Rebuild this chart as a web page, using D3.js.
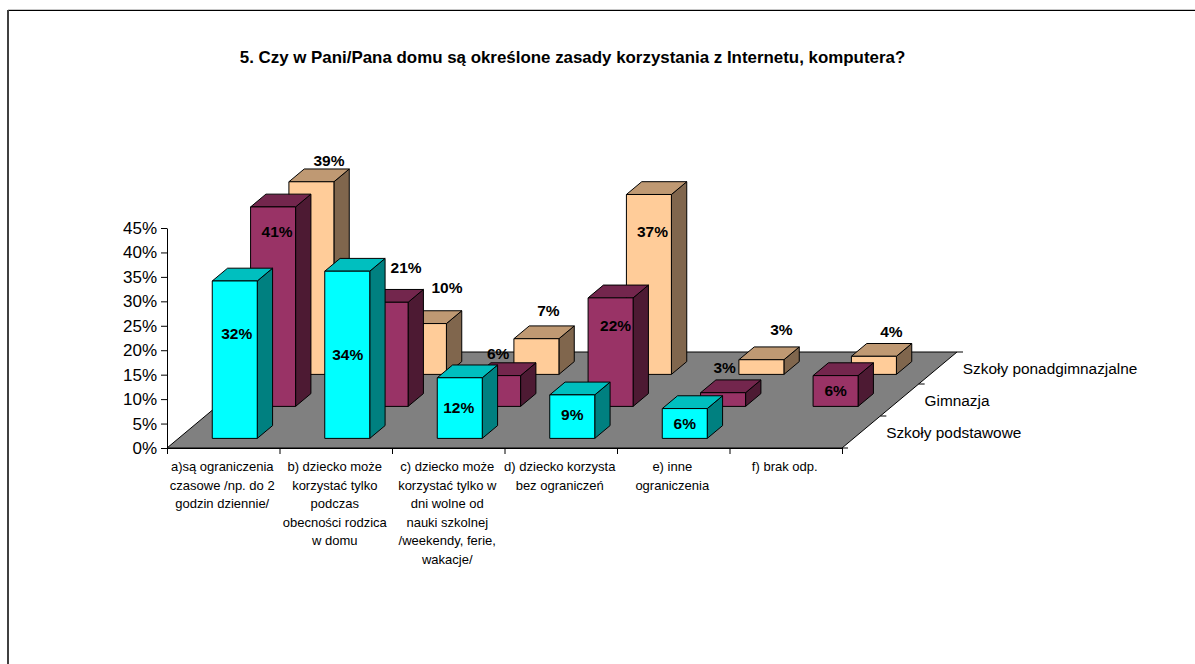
<!DOCTYPE html>
<html lang="pl"><head><meta charset="utf-8">
<style>html,body{margin:0;padding:0;background:#fff}svg{display:block}text{font-family:"Liberation Sans",Arial,sans-serif;fill:#000}</style>
<script src="https://cdn.jsdelivr.net/npm/d3@7/dist/d3.min.js"></script>
</head><body><svg id="c" width="1195" height="664"></svg>
<script>
const title = "5. Czy w Pani/Pana domu są określone zasady korzystania z Internetu, komputera?";
const categories = [
  ["a)są ograniczenia","czasowe /np. do 2","godzin dziennie/"],
  ["b) dziecko może","korzystać tylko","podczas","obecności rodzica","w domu"],
  ["c) dziecko może","korzystać tylko w","dni wolne od","nauki szkolnej","/weekendy, ferie,","wakacje/"],
  ["d) dziecko korzysta","bez ograniczeń"],
  ["e) inne","ograniczenia"],
  ["f) brak odp."]
];
const seriesNames = ["Szkoły podstawowe","Gimnazja","Szkoły ponadgimnazjalne"];
const podstawowe = [32.2,34.2,12.4,8.9,6.1,null];
const gimnazja = [40.8,21.3,6.3,22.2,2.8,6.3];
const ponadgimnazjalne = [39.4,10.4,7.3,36.8,3.0,3.7];
const yTicks = [0,5,10,15,20,25,30,35,40,45];
const seriesValues = [podstawowe,gimnazja,ponadgimnazjalne];
const palette = [
  {front:"#00FFFF",side:"#008080",top:"#00BFBF"},
  {front:"#993366",side:"#4D1A33",top:"#73264D"},
  {front:"#FFCC99",side:"#80664D",top:"#BF9973"}
];
// hand-placed label nudges relative to each bar's front-top centre
const nudgeX = [[2,0.5,-1,0,0,0],[4,20.5,0,5,1.5,0],[17.5,23,12,3.5,20,17.5]];
const nudgeY = [[53,83,29.6,20,14.6,0],[25,-35,-21.7,28,-25.7,15],[-21.6,-36,-28,37,-30,-24.7]];

const svg = d3.select("#c");
const x = d3.scaleLinear().domain([0,6]).range([167,842]);
const h = d3.scaleLinear().domain([0,45]).range([0,220]);
const depthX = d3.scaleLinear().domain([0,3]).range([0,115]);
const depthY = d3.scaleLinear().domain([0,3]).range([0,-96]);
const y0 = 448;
const pt = (c,d,v=0)=>[x(c)+depthX(d), y0+depthY(d)-h(v)];
const poly = p=>p.map(a=>a.join(",")).join(" ");

// page frame: only the top and left rules are visible
svg.append("line").attr("x1",8).attr("x2",1195).attr("y1",9.5).attr("y2",9.5).attr("stroke","#c8c8c8");
svg.append("line").attr("x1",7).attr("x2",1195).attr("y1",10.5).attr("y2",10.5).attr("stroke","#000");
svg.append("line").attr("x1",8).attr("x2",8).attr("y1",10).attr("y2",664).attr("stroke","#404040").attr("stroke-width",2);

svg.append("text").attr("x",572.5).attr("y",63).attr("text-anchor","middle")
  .attr("font-weight","bold").attr("font-size",16.9).text(title);

// floor
svg.append("polygon").attr("points",poly([pt(0,0),pt(6,0),pt(6,3),pt(0,3)]))
  .attr("fill","#808080").attr("stroke","#000").attr("stroke-width",1);

// axes
const yAxis = d3.axisLeft(d3.scaleLinear().domain([0,45]).range([y0,y0-220]))
  .tickValues(yTicks).tickFormat(d=>d+"%").tickSize(6).tickSizeOuter(0);
const gy = svg.append("g").attr("transform","translate(167,0)").call(yAxis);
gy.selectAll("text").attr("font-size",17).attr("x",-10).attr("fill","#000");
gy.attr("font-family",null);
const xAxis = d3.axisBottom(x).tickValues(d3.range(7)).tickFormat("").tickSize(6).tickSizeOuter(0);
svg.append("g").attr("transform",`translate(0,${y0})`).call(xAxis);
// depth ticks
svg.append("g").selectAll("line").data([0,1,2,3]).join("line")
  .attr("x1",d=>pt(6,d)[0]).attr("y1",d=>pt(6,d)[1])
  .attr("x2",d=>pt(6,d)[0]+6).attr("y2",d=>pt(6,d)[1]).attr("stroke","#000");

// category labels
const catG = svg.append("g").selectAll("g").data(categories).join("g");
catG.each(function(lines,i){
  d3.select(this).selectAll("text").data(lines).join("text")
    .attr("x",x(i+0.5)-1).attr("y",(l,j)=>471+j*18.6).attr("text-anchor","middle")
    .attr("font-size",13).text(l=>l);
});

// series labels
svg.append("g").selectAll("text").data(seriesNames).join("text")
  .attr("x",(s,i)=>pt(6,i+0.5)[0]+25).attr("y",(s,i)=>pt(6,i+0.5)[1]+6)
  .attr("font-size",15.4).text(s=>s);

// bars, back row first
const barW = 45, sideDepth = 0.4, frontOff = 0.3;
for(let s=2;s>=0;s--){
  seriesValues[s].forEach((v,c)=>{
    if(v==null) return;
    const dF = s+frontOff, dB = dF+sideDepth;
    const cx = c+0.5, half = barW/2/(x(1)-x(0));
    const fl=cx-half, fr=cx+half;
    const g = svg.append("g").attr("stroke","#000").attr("stroke-width",1).attr("stroke-linejoin","round");
    g.append("polygon").attr("fill",palette[s].side)
      .attr("points",poly([pt(fr,dF),pt(fr,dB),pt(fr,dB,v),pt(fr,dF,v)]));
    g.append("polygon").attr("fill",palette[s].top)
      .attr("points",poly([pt(fl,dF,v),pt(fr,dF,v),pt(fr,dB,v),pt(fl,dB,v)]));
    g.append("polygon").attr("fill",palette[s].front)
      .attr("points",poly([pt(fl,dF),pt(fr,dF),pt(fr,dF,v),pt(fl,dF,v)]));
    const [tx,ty]=pt(cx,dF,v);
    svg.append("text").attr("class","val").attr("x",tx+nudgeX[s][c]).attr("y",ty+nudgeY[s][c]+5.5)
      .attr("text-anchor","middle").attr("font-weight","bold").attr("font-size",15.5)
      .text(Math.round(v)+"%");
  });
}
svg.selectAll("text.val").raise();
</script></body></html>
